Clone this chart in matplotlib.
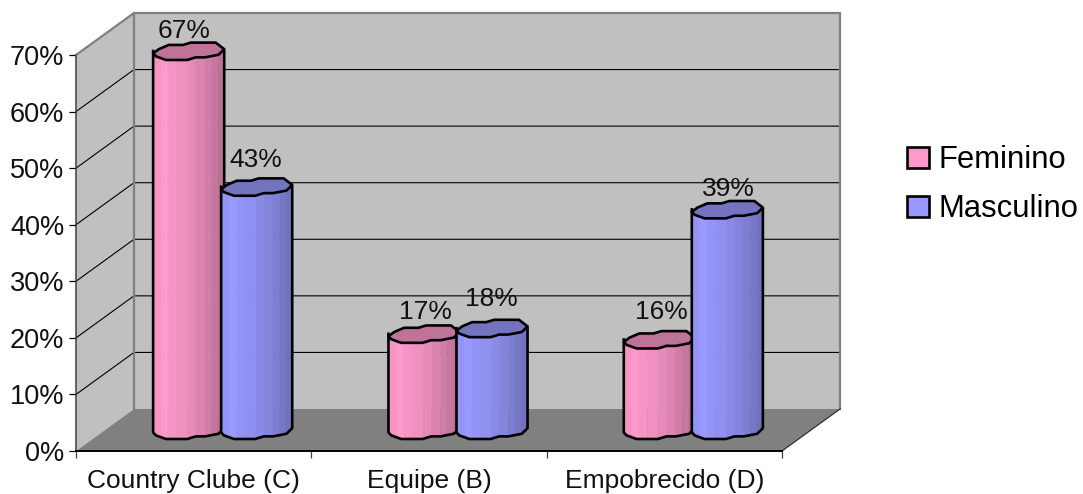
import numpy as np
import matplotlib
matplotlib.use("Agg")
import matplotlib.pyplot as plt
from matplotlib.patches import Polygon, Patch
from matplotlib.colors import to_rgb
from matplotlib.transforms import ScaledTranslation

# Chart data
categories = ["Country Clube (C)", "Equipe (B)", "Empobrecido (D)"]
feminino = [67, 17, 16]
masculino = [43, 18, 39]
y_ticks = [0, 10, 20, 30, 40, 50, 60, 70]

# Label placement in pixels relative to each column's top centre
fem_label_offset = [(-5, 20), (1, 22), (2, 27)]
masc_label_offset = [(-1, 27), (-1, 29), (1, 20)]

plt.rcParams["font.family"] = ["Liberation Sans", "DejaVu Sans"]
FONT = 19.0
W, H = 1083, 494
fig = plt.figure(figsize=(W / 100, H / 100), dpi=100)
ax = fig.add_axes([76 / W, 1 - 451 / H, (782 - 76) / W, (451 - 55) / H])
ax.set_xlim(0, 3)
ax.set_ylim(0, 70)
ax.patch.set_visible(False)

px_x = 3 / (782 - 76)      # data units per pixel, horizontally
px_y = 70 / (451 - 55)     # data units per pixel, vertically
DX = 58 * px_x             # chart depth
DY = 42 * px_y
TOP = 70

GREY_WALL = "#c0c0c0"
GREY_FLOOR = "#808080"


def poly(points, **kw):
    kw.setdefault("clip_on", False)
    p = Polygon(points, closed=True, **kw)
    ax.add_patch(p)
    return p


# Walls and floor of the 3D box
poly([(0, 0), (DX, DY), (DX, TOP + DY), (0, TOP)], fc=GREY_WALL, ec="none", zorder=1)
poly([(DX, DY), (3 + DX, DY), (3 + DX, TOP + DY), (DX, TOP + DY)], fc=GREY_WALL, ec="none", zorder=1)
poly([(0, 0), (3, 0), (3 + DX, DY), (DX, DY)], fc=GREY_FLOOR, ec="none", zorder=1.2)

# Gridlines run across the side wall and the back wall
for v in y_ticks[1:-1]:
    ax.plot([0, DX, 3 + DX], [v, v + DY, v + DY], color="black", lw=0.8, clip_on=False, zorder=1.5)

# Wall borders
ax.plot([0, DX, 3 + DX, 3 + DX], [TOP, TOP + DY, TOP + DY, DY], color=GREY_FLOOR, lw=1.6,
        clip_on=False, zorder=1.6, solid_joinstyle="miter")
ax.plot([DX, DX], [DY, TOP + DY], color=GREY_FLOOR, lw=1.6, clip_on=False, zorder=1.6)
ax.plot([3, 3 + DX], [0, DY], color="#303030", lw=0.9, clip_on=False, zorder=1.6)

# Faceted outline of a column's cap, in fractions of its width and height
OUT_U = np.array([0, .08, .22, .42, .53, .88, 1])
OUT_V = np.array([.27, -.2, -.67, -.67, -.93, -.93, -.2])
LOW_U = np.array([0, .04, .18, .48, .60, .73, .92, 1])
LOW_V = np.array([.27, .6, 1, 1, .71, .71, .42, -.2])
# Shading of the vertical facets, left to right
FACET_EDGES = np.array([0, .11, .22, .33, .49, .61, .73, .82, .91, 1])
FACET_SHADE = [.97, 1.0, .97, .94, .90, .86, .82, .78, .74]

BAR_W = 0.302
BAR_STEP = 0.289
CAP_H = 18 * px_y
LW = 1.9


def column(xc, value, base_rgb, cap_color, z):
    x0 = xc - BAR_W / 2
    y0 = DY / 2
    y1 = y0 + value
    low = lambda u, y: y - np.interp(u, LOW_U, LOW_V) * CAP_H / 2
    for i, shade in enumerate(FACET_SHADE):
        a, b = FACET_EDGES[i], FACET_EDGES[i + 1]
        col = tuple(c * shade for c in base_rgb)
        poly([(x0 + a * BAR_W, y1), (x0 + b * BAR_W, y1),
              (x0 + b * BAR_W, low(b, y0)), (x0 + a * BAR_W, low(a, y0))],
             fc=col, ec=col, lw=0.3, zorder=z)
    # Side and bottom contour
    us = np.concatenate([[0], LOW_U, [1]])
    ys = [y1] + [low(u, y0) for u in LOW_U] + [y1]
    ax.plot(x0 + us * BAR_W, ys, color="black", lw=LW, clip_on=False, zorder=z + .1,
            solid_joinstyle="round")
    # Cap
    upper = [(x0 + u * BAR_W, y1 - v * CAP_H / 2) for u, v in zip(OUT_U, OUT_V)]
    lower = [(x0 + u * BAR_W, low(u, y1)) for u, v in zip(LOW_U[::-1], LOW_V[::-1])]
    poly(upper + lower, fc=cap_color, ec="black", lw=LW, zorder=z + .2, joinstyle="round")


PINK = to_rgb("#ff99cc")
BLUE = to_rgb("#9999ff")
for i in range(len(categories)):
    centre = i + 0.5 + DX / 2
    xf = centre - BAR_STEP / 2
    xm = centre + BAR_STEP / 2
    column(xf, feminino[i], PINK, "#bf7398", 3 + i)
    column(xm, masculino[i], BLUE, "#7373bf", 3.5 + i)
    for xc, val, off in ((xf, feminino[i], fem_label_offset[i]), (xm, masculino[i], masc_label_offset[i])):
        ax.annotate(f"{val}%", xy=(xc, DY / 2 + val), xytext=(off[0] * .72, off[1] * .72),
                    textcoords="offset points", ha="center", va="center",
                    fontsize=FONT, color="#111111", zorder=20, annotation_clip=False)

# Axes, ticks and labels
for side in ("top", "right"):
    ax.spines[side].set_visible(False)
ax.spines["left"].set_linewidth(1.1)
ax.spines["left"].set_color("#404040")
ax.spines["bottom"].set_linewidth(1.4)
ax.set_yticks(y_ticks)
ax.set_yticklabels([f"{v}%" for v in y_ticks], fontsize=FONT * 1.03, color="#111111")
# Raise the value labels slightly above their tick marks
raise_labels = ScaledTranslation(0, 2.5 / 100, fig.dpi_scale_trans)
for lab in ax.get_yticklabels():
    lab.set_transform(lab.get_transform() + raise_labels)
ax.set_xticks(range(len(categories) + 1))
ax.set_xticklabels([])
ax.set_xticks([i + .5 for i in range(len(categories))], minor=True)
ax.set_xticklabels(categories, minor=True, fontsize=FONT, color="#111111")
ax.tick_params(axis="x", which="minor", length=0, pad=13)
ax.tick_params(axis="x", which="major", length=5, width=0.9, color="#404040")
ax.tick_params(axis="y", length=5, width=0.9, pad=3.5)

# Legend
handles = [Patch(fc="#ff99cc", ec="black", lw=1.9, label="Feminino"),
           Patch(fc="#9999ff", ec="black", lw=1.9, label="Masculino")]
LEG_FONT = 22.3
leg = fig.legend(handles=handles, loc="upper left", bbox_to_anchor=(907 / W, 1 - 145 / H),
                 bbox_transform=fig.transFigure, frameon=False, fontsize=LEG_FONT,
                 handlelength=0.7, handleheight=0.66, handletextpad=0.32,
                 labelspacing=0.62, borderpad=0, borderaxespad=0)

fig.savefig("out.png", dpi=100)
